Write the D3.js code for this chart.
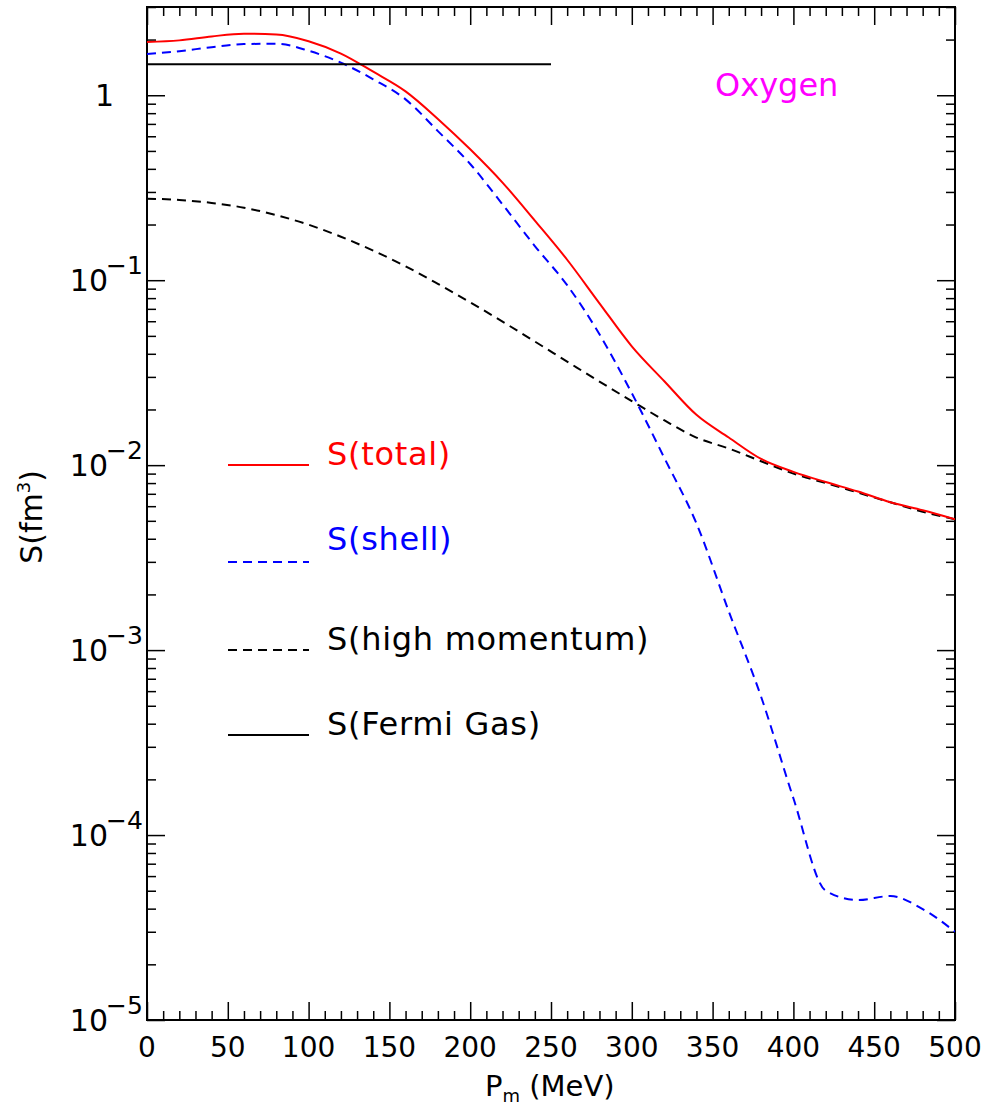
<!DOCTYPE html>
<html>
<head>
<meta charset="utf-8">
<script src="https://cdn.jsdelivr.net/npm/d3@7"></script>
<style>
  body { margin: 0; background: #fff; }
  svg text { font-family: "DejaVu Sans", sans-serif; }
</style>
</head>
<body>
<svg id="chart" width="989" height="1106"></svg>
<script>
// Missing-momentum grid (MeV) and spectral function components S (fm^3)
const momentum = [0, 20, 40, 60, 80, 100, 120, 140, 160, 180, 200, 220, 240,
                  260, 280, 300, 320, 340, 360, 380, 400, 420, 440, 460, 480, 500];
const totalS = [1.94, 1.98, 2.08, 2.15, 2.13, 1.96, 1.68, 1.34, 1.05, 0.745, 0.51,
                0.337, 0.21, 0.129, 0.075, 0.0439, 0.0285, 0.0187, 0.0141, 0.0108,
                0.0092, 0.0081, 0.0072, 0.0063, 0.0057, 0.0051];
const shellS = [1.67, 1.73, 1.82, 1.89, 1.90, 1.74, 1.50, 1.22, 0.95, 0.64, 0.425,
                0.257, 0.153, 0.094, 0.051, 0.0245, 0.011, 0.00484, 0.00162, 5.6e-4,
                1.58e-4, 5.0e-5, 4.45e-5, 4.68e-5, 3.98e-5, 3.0e-5];
const highMomentumS = [0.276, 0.2716, 0.2618, 0.2466, 0.2249, 0.1995, 0.1718, 0.1445, 0.1189,
                       0.0955, 0.0759, 0.0597, 0.0466, 0.0363, 0.0283, 0.0222, 0.0175,
                       0.0141, 0.0123, 0.0105, 0.0090, 0.0080, 0.0071, 0.0063, 0.0056, 0.0051];
const fermiMomentum = [0, 250];
const fermiS = [1.47, 1.47];

const xMajorTicks = [0, 50, 100, 150, 200, 250, 300, 350, 400, 450, 500];
const yDecades = [1e-5, 1e-4, 1e-3, 1e-2, 1e-1, 1];
const yDecadeExponents = ["\u22125", "\u22124", "\u22123", "\u22122", "\u22121", ""];
const legendLabels = ["S(total)", "S(shell)", "S(high momentum)", "S(Fermi Gas)"];
const nucleusLabel = "Oxygen";

// Layout
const plot = { left: 147, right: 955, top: 7, bottom: 1020 };
const svg = d3.select("#chart");

const x = d3.scaleLinear().domain([0, 500]).range([plot.left, plot.right]);
const y = d3.scaleLog().domain([1e-5, 3]).range([plot.bottom, plot.top]);

// Minor tick positions
const xMinorTicks = d3.range(0, 501, 10).filter(v => v % 50 !== 0);
const yMinorTicks = [];
yDecades.forEach(d => { for (let k = 2; k <= 9; k++) { const v = d * k; if (v <= 3) yMinorTicks.push(v); } });

function tickAxis(axisFn, scale, values, size, transform) {
  const g = svg.append("g").attr("transform", transform)
    .call(axisFn(scale).tickValues(values).tickSize(size).tickFormat(""));
  g.select(".domain").remove();
  g.selectAll(".tick line").attr("stroke", "#000").attr("stroke-width", 1.5);
  return g;
}

// Ticks pointing inward on all four sides
tickAxis(d3.axisBottom, x, xMajorTicks, -18, `translate(0,${plot.bottom})`);
tickAxis(d3.axisBottom, x, xMinorTicks, -9, `translate(0,${plot.bottom})`);
tickAxis(d3.axisTop, x, xMajorTicks, -18, `translate(0,${plot.top})`);
tickAxis(d3.axisTop, x, xMinorTicks, -9, `translate(0,${plot.top})`);
tickAxis(d3.axisLeft, y, yDecades, -18, `translate(${plot.left},0)`);
tickAxis(d3.axisLeft, y, yMinorTicks, -9, `translate(${plot.left},0)`);
tickAxis(d3.axisRight, y, yDecades, -18, `translate(${plot.right},0)`);
tickAxis(d3.axisRight, y, yMinorTicks, -9, `translate(${plot.right},0)`);

// Frame
svg.append("rect")
  .attr("x", plot.left).attr("y", plot.top)
  .attr("width", plot.right - plot.left).attr("height", plot.bottom - plot.top)
  .attr("fill", "none").attr("stroke", "#000").attr("stroke-width", 2);

// X tick labels
svg.append("g").selectAll("text").data(xMajorTicks).join("text")
  .attr("x", d => x(d)).attr("y", plot.bottom + 37)
  .attr("text-anchor", "middle")
  .attr("font-size", 28)
  .text(d => d);

// Y tick labels: 10 with superscript exponent
const yLab = svg.append("g").selectAll("g").data(yDecades.map((d, i) => ({ v: d, e: yDecadeExponents[i] })))
  .join("g").attr("transform", d => `translate(0,${y(d.v)})`);
yLab.filter(d => d.e !== "").append("text")
  .attr("x", 108).attr("y", 11).attr("text-anchor", "end").attr("font-size", 30).text("10");
yLab.filter(d => d.e !== "").append("text")
  .attr("x", 106).attr("y", -6).attr("font-size", 25).text(d => d.e);
yLab.filter(d => d.e === "").append("text")
  .attr("x", 114).attr("y", 11).attr("text-anchor", "end").attr("font-size", 30).text("1");

// Axis titles
const xt = svg.append("text").attr("x", 485).attr("y", 1096).attr("font-size", 29);
xt.append("tspan").text("P");
xt.append("tspan").attr("font-size", 18).attr("dy", 6).text("m");
xt.append("tspan").attr("dy", -6).text(" (MeV)");

const yt = svg.append("text").attr("transform", "translate(42,517) rotate(-90)")
  .attr("text-anchor", "middle").attr("font-size", 30);
yt.append("tspan").text("S(fm");
yt.append("tspan").attr("font-size", 18).attr("dy", -12).text("3");
yt.append("tspan").attr("dy", 12).text(")");

// Curves
svg.append("clipPath").attr("id", "plotClip").append("rect")
  .attr("x", plot.left).attr("y", plot.top)
  .attr("width", plot.right - plot.left).attr("height", plot.bottom - plot.top);

const line = d3.line().x(d => x(d[0])).y(d => y(d[1])).curve(d3.curveMonotoneX);
const curves = svg.append("g").attr("clip-path", "url(#plotClip)");

const series = [
  { values: highMomentumS, px: momentum, color: "#000", dash: "9,6" },
  { values: shellS, px: momentum, color: "#0000ff", dash: "9,6" },
  { values: totalS, px: momentum, color: "#ff0000", dash: null },
  { values: fermiS, px: fermiMomentum, color: "#000", dash: null }
];
series.forEach(s => {
  curves.append("path")
    .datum(s.px.map((p, i) => [p, s.values[i]]))
    .attr("d", line)
    .attr("fill", "none")
    .attr("stroke", s.color)
    .attr("stroke-width", 2)
    .attr("stroke-dasharray", s.dash);
});

// Legend
const legendItems = [
  { label: legendLabels[0], color: "#ff0000", dash: null, lineY: 465, textY: 465 },
  { label: legendLabels[1], color: "#0000ff", dash: "9,6", lineY: 562, textY: 550 },
  { label: legendLabels[2], color: "#000", dash: "9,6", lineY: 650, textY: 650 },
  { label: legendLabels[3], color: "#000", dash: null, lineY: 735, textY: 735 }
];
const lg = svg.append("g");
legendItems.forEach(it => {
  lg.append("line").attr("x1", 228).attr("x2", 309).attr("y1", it.lineY).attr("y2", it.lineY)
    .attr("stroke", it.color).attr("stroke-width", 2).attr("stroke-dasharray", it.dash);
  lg.append("text").attr("x", 327).attr("y", it.textY).attr("font-size", 32)
    .attr("letter-spacing", 0.7)
    .attr("fill", it.color).text(it.label);
});

svg.append("text").attr("x", 715).attr("y", 96).attr("font-size", 32)
  .attr("fill", "#ff00ff").text(nucleusLabel);
</script>
</body>
</html>
